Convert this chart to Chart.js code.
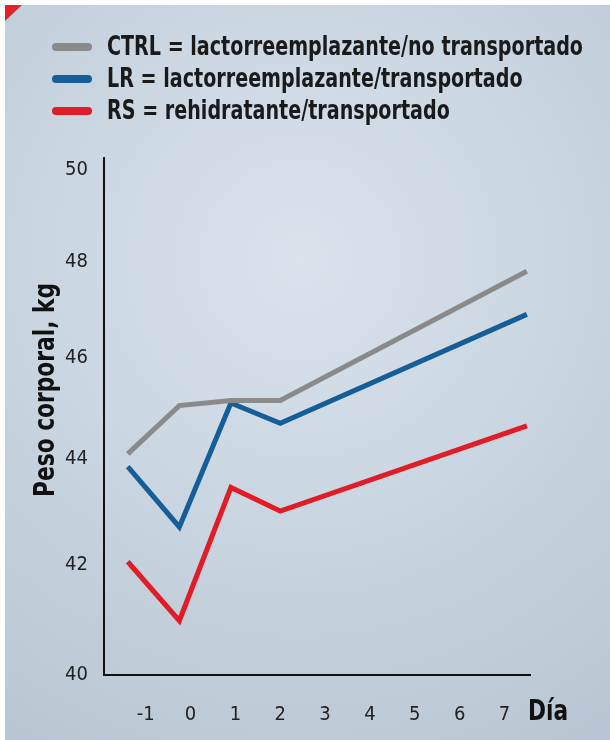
<!DOCTYPE html>
<html>
<head>
<meta charset="utf-8">
<script src="https://cdn.jsdelivr.net/npm/chart.js@4/dist/chart.umd.min.js"></script>
<style>
  html, body { margin: 0; padding: 0; background: #fff; }
  canvas { display: block; }
</style>
</head>
<body>
<canvas id="pesoChart" width="610" height="740"></canvas>
<script>
// day of each weighing
var days = [-1.4, -0.25, 0.9, 2.0, 7.5];
// body weight, kg
var ctrl = [44.1, 45.05, 45.15, 45.15, 47.8];
var lr = [43.85, 42.7, 45.1, 44.7, 46.9];
var rs = [42.05, 40.97, 43.45, 43.0, 44.65];

var seriesLabels = [
    "CTRL = lactorreemplazante/no transportado",
    "LR = lactorreemplazante/transportado",
    "RS = rehidratante/transportado"
];
var seriesColors = ['#8a8a8a', '#155e99', '#e21c26'];

var xTicks = [-1, 0, 1, 2, 3, 4, 5, 6, 7];
var yTicks = [40, 42, 44, 46, 48, 50];

var narrow = '"DejaVu Sans Condensed", "Liberation Sans Narrow", sans-serif';

function points(values) {
    return days.map(function (d, i) { return { x: d, y: values[i] }; });
}

// draws text squeezed sideways by factor sx (the original uses a condensed face)
function squeezed(ctx, text, x, y, sx) {
    ctx.save();
    ctx.translate(x, y);
    ctx.scale(sx, 1);
    ctx.fillText(text, 0, 0);
    ctx.restore();
}

// panel background, red corner, legend and axis titles
var decor = {
    id: 'decor',
    beforeDraw: function (chart) {
        var ctx = chart.ctx;
        ctx.save();
        ctx.fillStyle = '#ffffff';
        ctx.fillRect(0, 0, chart.width, chart.height);
        var g = ctx.createRadialGradient(300, 260, 0, 300, 260, 560);
        g.addColorStop(0, '#d9e3ec');
        g.addColorStop(1, '#b8c6d3');
        ctx.fillStyle = g;
        ctx.fillRect(5, 5, chart.width - 5, chart.height - 5);
        ctx.fillStyle = '#e0222a';
        ctx.beginPath();
        ctx.moveTo(5, 5);
        ctx.lineTo(22, 5);
        ctx.lineTo(5, 21);
        ctx.closePath();
        ctx.fill();
        ctx.restore();
    },
    afterDraw: function (chart) {
        var ctx = chart.ctx;
        ctx.save();
        ctx.fillStyle = '#1a1a1a';
        ctx.font = 'bold 26px ' + narrow;
        ctx.textBaseline = 'middle';
        ctx.textAlign = 'left';
        // same squeeze for all rows, set so the first row is 476px wide
        var sx = 476 / ctx.measureText(seriesLabels[0]).width;
        chart.data.datasets.forEach(function (ds, i) {
            var y = 47 + i * 32;
            ctx.strokeStyle = ds.borderColor;
            ctx.lineWidth = 8;
            ctx.lineCap = 'round';
            ctx.beginPath();
            ctx.moveTo(56, y);
            ctx.lineTo(88, y);
            ctx.stroke();
            squeezed(ctx, ds.label, 107, y + 1, sx);
        });
        // y axis title
        ctx.font = 'bold 28px ' + narrow;
        ctx.textAlign = 'center';
        ctx.fillStyle = '#111';
        var title = 'Peso corporal, kg';
        var tw = ctx.measureText(title).width;
        ctx.save();
        ctx.translate(47, 390);
        ctx.rotate(-Math.PI / 2);
        squeezed(ctx, title, 0, 0, 214 / tw);
        ctx.restore();
        // x axis title
        ctx.textAlign = 'left';
        squeezed(ctx, 'Día', 528, 713, 40 / ctx.measureText('Día').width);
        ctx.restore();
    }
};

var ctx = document.getElementById("pesoChart").getContext('2d');
var pesoChart = new Chart(ctx, {
    type: 'line',
    data: {
        datasets: [
            { label: seriesLabels[0], data: points(ctrl), borderColor: seriesColors[0] },
            { label: seriesLabels[1], data: points(lr), borderColor: seriesColors[1] },
            { label: seriesLabels[2], data: points(rs), borderColor: seriesColors[2] }
        ]
    },
    options: {
        responsive: false,
        animation: false,
        layout: { padding: { top: 158, right: 80, left: 0, bottom: 0 } },
        elements: {
            line: { borderWidth: 5, tension: 0, fill: false, borderJoinStyle: 'miter' },
            point: { radius: 0, hoverRadius: 0 }
        },
        plugins: {
            legend: { display: false },
            tooltip: { enabled: false }
        },
        scales: {
            x: {
                type: 'linear',
                min: -1.93,
                max: 7.57,
                afterBuildTicks: function (scale) {
                    scale.ticks = xTicks.map(function (v) { return { value: v }; });
                },
                afterFit: function (scale) { scale.height = 65; },
                grid: { display: false },
                border: { display: true, color: '#111', width: 2 },
                ticks: {
                    color: '#222',
                    padding: 20,
                    font: { family: narrow, size: 20 },
                    callback: function (v) { return v; }
                }
            },
            y: {
                type: 'logarithmic',
                min: 40,
                max: 50.25,
                afterBuildTicks: function (scale) {
                    scale.ticks = yTicks.map(function (v) { return { value: v }; });
                },
                afterFit: function (scale) { scale.width = 104; },
                grid: { display: false },
                border: { display: true, color: '#111', width: 2 },
                ticks: {
                    color: '#222',
                    padding: 8,
                    font: { family: narrow, size: 20 },
                    callback: function (v) { return v; }
                }
            }
        }
    },
    plugins: [decor]
});
</script>
</body>
</html>
